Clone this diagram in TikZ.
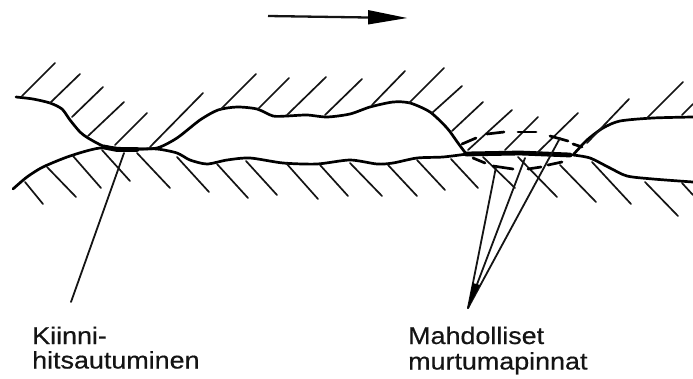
\documentclass[tikz,border=0pt]{standalone}
\usepackage{fontspec}
\setmainfont[FakeStretch=1.12,FakeBold=0.5]{Liberation Sans}
\tikzset{
  surface/.style={line width=2.7pt,line cap=round,line join=round,black},
  thickband/.style={line width=4.8pt,line cap=round,black},
  hatch/.style={line width=1.7pt,line cap=round,black!92},
  crack/.style={line width=2.7pt,line cap=round,black},
  leader/.style={line width=1.8pt,line cap=round,black!92},
  caption/.style={anchor=base west,inner sep=0pt,font=\fontsize{24}{25}\selectfont,text=black!92}
}
\begin{document}
\begin{tikzpicture}[x=1pt,y=-1pt]
\useasboundingbox (0,0) rectangle (693,378);
% direction arrow
\coordinate (arrowstart) at (268,16);
\coordinate (arrowneck) at (368,17.5);
\draw[line width=2.3pt,black!92] (arrowstart) -- (arrowneck);
\fill[black] (368,10) -- (407,18) -- (368,24.5) -- cycle;
% upper surface
\draw[surface] plot[smooth,tension=.45] coordinates {(16,97) (33,99) (50,103) (62,109) (70,120) (80,132) (88,138) (103,146) (117,149) (133,149) (157,148) (177,138) (200,120) (218,110) (237,107) (257,109) (273,116) (287,116) (307,115) (327,117) (350,114) (370,107) (393,102) (410,103) (430,112) (447,128) (458,143) (467,155)};
\draw[surface] plot[smooth,tension=.45] coordinates {(573,155) (587,140) (603,128) (620,121) (653,118) (693,117)};
% lower surface
\draw[surface] plot[smooth,tension=.45] coordinates {(13,189) (27,177) (43,167) (70,156) (100,148) (133,149) (157,149) (177,153) (190,160) (207,164) (227,160) (250,158) (283,163) (317,164) (350,160) (377,164) (393,163) (417,158) (443,157) (467,154)};
\draw[surface] plot[smooth,tension=.45] coordinates {(573,155) (590,158) (610,168) (627,176) (653,179) (693,182)};
% welded zones
\draw[thickband] (104,147) -- (117,149.5) -- (137,149.5);
\draw[thickband] (466,154) -- (520,153) -- (570,155);
% upper hatching
\foreach \a/\b/\c/\d in {22/96/55/63,50/103/80/74,72/117/103/87,88/136/124/102,115/145/147/113,150/147/203/93,220/110/256/74,258/109/289/78,287/115/326/77,325/115/362/79,372/105/405/71,409/103/444/68,432/113/462/86,452/131/483/102,468/150/512/110,505/150/538/117,537/153/578/113,587/143/629/99,647/118/683/82,682/115/693/104}
  \draw[hatch] (\a,\b) -- (\c,\d);
% lower hatching
\foreach \a/\b/\c/\d in {25/182/43/204,47/167/76/197,73/156/101/188,102/150/130/181,137/153/170/188,177/157/209/192,217/164/248/198,246/161/277/195,286/163/318/199,320/165/348/196,350/163/382/196,388/165/417/196,417/160/445/190,451/159/478/188,483/157/515/188,518/157/557/197,560/165/596/202,592/162/631/204,645/182/678/216,682/183/693/195}
  \draw[hatch] (\a,\b) -- (\c,\d);
% possible fracture surfaces (dashed)
\foreach \a/\b/\c/\d in {462/144/476/138,487/134/504/132,518/132/536/132,550/136/568/141,573/144/582/147,473/158/485/163,493/166/513/169,528/169/541/167,548/165/562/162}
  \draw[crack] (\a,\b) -- (\c,\d);
% leaders
\coordinate (weld) at (124,153);
\coordinate (weldend) at (71,302);
\draw[leader] (weld) -- (weldend);
\coordinate (tip) at (468,308);
\coordinate (fa) at (496,167);
\coordinate (fb) at (525,158);
\coordinate (fc) at (560,138);
\draw[leader] (tip) -- (fa);
\draw[leader] (tip) -- (fb);
\draw[leader] (tip) -- (fc);
\fill[black] (468,308) -- (472.5,283) -- (480,285) -- cycle;
% captions
\node[caption] (kiinni) at (32,344) {Kiinni-};
\node[caption] (hits) at (32,368.5) {hitsautuminen};
\node[caption] (mahd) at (408,344) {Mahdolliset};
\node[caption] (murt) at (408,369.5) {murtumapinnat};
\end{tikzpicture}
\end{document}
